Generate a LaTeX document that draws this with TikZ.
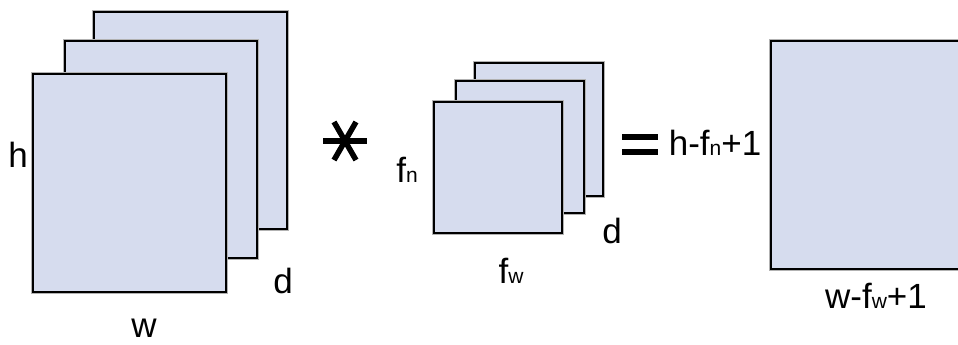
\documentclass[tikz,border=0pt]{standalone}
\usepackage{fontspec}
\setmainfont{Liberation Sans}
\definecolor{sheetfill}{RGB}{214,220,238}
\newcommand{\bigtxt}{\fontsize{35}{38}\selectfont}
\newcommand{\smalltxt}{\fontsize{21}{24}\selectfont}
\begin{document}
\begin{tikzpicture}[x=1pt,y=-1pt,
  sheet/.style={draw=black, line width=2.4pt, fill=sheetfill, line join=miter,
    preaction={draw=black!30, line width=4pt}},
  lbl/.style={inner sep=0pt, anchor=base, font=\bigtxt},
  opbar/.style={line width=6pt, black}]
\useasboundingbox (0,0) rectangle (958,345);
\begin{scope}
\clip (0,0) rectangle (958,345);
% left stack
\draw[sheet] (94,12) rectangle (287,229);
\draw[sheet] (65,41) rectangle (257,258);
\draw[sheet] (33,74) rectangle (226,292);
% filter stack
\draw[sheet] (475,63) rectangle (603,196);
\draw[sheet] (456,81) rectangle (584,213);
\draw[sheet] (434,102) rectangle (562,233);
% result
\draw[sheet] (771,41) rectangle (1000,269);
\end{scope}
% labels
\node[lbl] (h) at (18,167) {h};
\node[lbl] (d1) at (283,293) {d};
\node[lbl] (w) at (144,337) {w};
\node[lbl] (fn) at (407,182) {f{\smalltxt n}};
\node[lbl] (d2) at (612,243) {d};
\node[lbl] (fw) at (511,283) {f{\smalltxt w}};
\node[lbl] (hout) at (715,155) {h-f{\smalltxt n}+1};
\node[lbl] (wout) at (876,308) {w-f{\smalltxt w}+1};
% asterisk
\coordinate (ast) at (345,141);
\draw[opbar, line width=5.5pt] ([shift={(-22,0)}]ast) -- ([shift={(22,0)}]ast);
\draw[opbar, line width=5.5pt] ([shift={(120:22)}]ast) -- ([shift={(-60:22)}]ast);
\draw[opbar, line width=5.5pt] ([shift={(60:22)}]ast) -- ([shift={(-120:22)}]ast);
% equals
\coordinate (eq) at (640,145);
\draw[opbar] ([shift={(-18,-8)}]eq) -- ([shift={(18,-8)}]eq);
\draw[opbar] ([shift={(-18,7)}]eq) -- ([shift={(18,7)}]eq);
\end{tikzpicture}
\end{document}
